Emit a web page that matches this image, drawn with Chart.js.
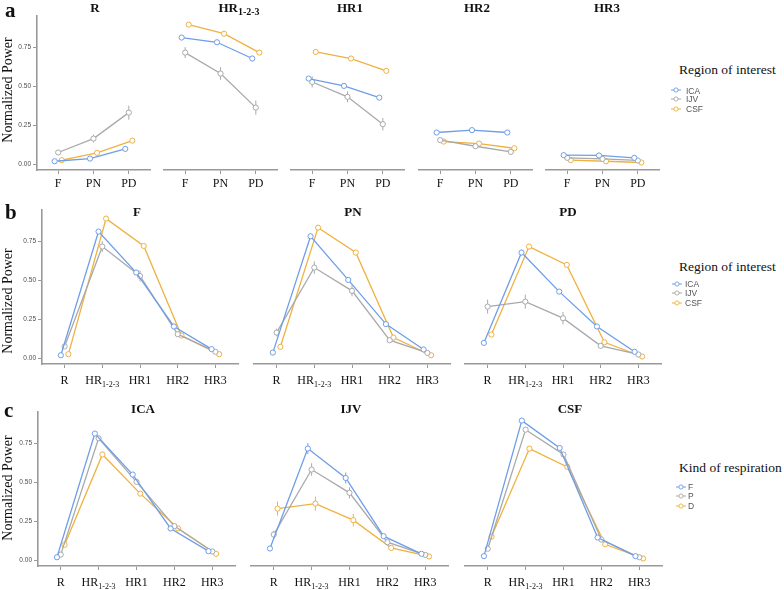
<!DOCTYPE html>
<html><head><meta charset="utf-8">
<script src="https://cdn.jsdelivr.net/npm/chart.js@4.4.1/dist/chart.umd.min.js"></script>
<style>
html,body{margin:0;padding:0;background:#fff;}
body{width:784px;height:590px;position:relative;overflow:hidden;}
.t{position:absolute;white-space:nowrap;}
.serif{font-family:"Liberation Serif","Times New Roman",serif;color:#111;}
.sans{font-family:"Liberation Sans",Arial,sans-serif;color:#555;}
canvas{position:absolute;}
sub{font-size:10px;vertical-align:-3px;line-height:0;}
</style></head><body>
<script>
// ---------------- data ----------------
const harmonics = ['R', 'HR_1-2-3', 'HR1', 'HR2', 'HR3'];
const respirations = ['F', 'PN', 'PD'];
const respLegend = ['F', 'P', 'D'];
const regions = ['ICA', 'IJV', 'CSF'];
const yTicks = [0, 0.25, 0.5, 0.75];

// values across harmonics R, HR1-2-3, HR1, HR2, HR3
const ICA_F  = [0.021, 0.812, 0.550, 0.205, 0.060];
const ICA_PN = [0.038, 0.782, 0.503, 0.220, 0.058];
const ICA_PD = [0.100, 0.678, 0.428, 0.205, 0.043];
const IJV_F  = [0.077, 0.716, 0.528, 0.156, 0.043];
const IJV_PN = [0.166, 0.582, 0.433, 0.117, 0.036];
const IJV_PD = [0.332, 0.364, 0.258, 0.081, 0.026];
const CSF_F  = [0.028, 0.895, 0.720, 0.147, 0.028];
const CSF_PN = [0.075, 0.837, 0.678, 0.134, 0.021];
const CSF_PD = [0.153, 0.716, 0.599, 0.104, 0.013];

// standard errors
const ICA_F_err  = [0.006, 0.012, 0.012, 0.008, 0.005];
const ICA_PN_err = [0.006, 0.012, 0.012, 0.008, 0.005];
const ICA_PD_err = [0.010, 0.018, 0.014, 0.008, 0.005];
const IJV_F_err  = [0.015, 0.035, 0.035, 0.012, 0.006];
const IJV_PN_err = [0.025, 0.040, 0.035, 0.010, 0.005];
const IJV_PD_err = [0.045, 0.045, 0.040, 0.010, 0.005];
const CSF_F_err  = [0.006, 0.010, 0.014, 0.008, 0.004];
const CSF_PN_err = [0.008, 0.010, 0.012, 0.008, 0.004];
const CSF_PD_err = [0.010, 0.012, 0.015, 0.008, 0.004];

const VAL = {ICA:{F:ICA_F,PN:ICA_PN,PD:ICA_PD}, IJV:{F:IJV_F,PN:IJV_PN,PD:IJV_PD}, CSF:{F:CSF_F,PN:CSF_PN,PD:CSF_PD}};
const ERR = {ICA:{F:ICA_F_err,PN:ICA_PN_err,PD:ICA_PD_err}, IJV:{F:IJV_F_err,PN:IJV_PN_err,PD:IJV_PD_err}, CSF:{F:CSF_F_err,PN:CSF_PN_err,PD:CSF_PD_err}};

// ---------------- style / layout ----------------
const COLORS = ['#6f9ee9', '#a9a9a9', '#efb140'];
const YMIN = -0.035, YMAX = 0.95, PPU = 156.4, PAD = 10, XH = 26, YW = 30;
const SERIF = '"Liberation Serif","Times New Roman",serif';

function htmlLabel(lab){ const p = lab.split('_'); return p.length > 1 ? p[0] + '<sub>' + p[1] + '</sub>' : lab; }

function addText(html, cls, css){
  const d = document.createElement('div');
  d.className = 't ' + cls; d.innerHTML = html;
  Object.assign(d.style, css);
  document.body.appendChild(d);
  return d;
}

function panel(o){
  const top = Math.round(o.zeroY - YMAX * PPU);
  const bottom = Math.round(o.zeroY - YMIN * PPU);
  const h = bottom - top;
  const yw = o.showY ? YW : 0;
  const L = Math.round(o.left), W = Math.round(o.width);
  const cw = W + yw + 2 * PAD, ch = h + XH + 2 * PAD;
  const cv = document.createElement('canvas');
  cv.width = cw; cv.height = ch;
  cv.style.left = (L - yw - PAD) + 'px'; cv.style.top = (top - PAD) + 'px';
  cv.style.width = cw + 'px'; cv.style.height = ch + 'px';
  document.body.appendChild(cv);
  const n = o.labels.length;
  const step = 0.1;
  const datasets = o.series.map((vals, s) => ({
    data: vals.map((v, i) => ({x: i + (s - 1) * step, y: v})),
    borderColor: COLORS[s], backgroundColor: '#fff', borderWidth: 1.3,
    pointRadius: 2.6, pointHoverRadius: 2.6, pointBorderWidth: 1,
    pointBackgroundColor: '#fff', pointBorderColor: COLORS[s], tension: 0, clip: false
  }));
  const errPlugin = { id: 'errbars', beforeDatasetsDraw(chart){
    const ctx = chart.ctx, ys = chart.scales.y;
    ctx.save(); ctx.lineWidth = 1;
    o.series.forEach((vals, s) => {
      const meta = chart.getDatasetMeta(s);
      ctx.strokeStyle = COLORS[s];
      meta.data.forEach((el, i) => {
        const e = o.errs[s][i];
        ctx.beginPath();
        ctx.moveTo(el.x, ys.getPixelForValue(vals[i] - e));
        ctx.lineTo(el.x, ys.getPixelForValue(vals[i] + e));
        ctx.stroke();
      });
    });
    ctx.restore();
  }};
  const xlabPlugin = { id: 'xlab', afterDraw(chart){
    const ctx = chart.ctx, xs = chart.scales.x, yb = chart.chartArea.bottom + o.labBase;
    ctx.save(); ctx.fillStyle = '#111'; ctx.textBaseline = 'alphabetic'; ctx.textAlign = 'left';
    o.labels.forEach((lab, i) => {
      const x = xs.getPixelForValue(i);
      const p = lab.split('_');
      ctx.font = '12px ' + SERIF;
      const w1 = ctx.measureText(p[0]).width;
      let w2 = 0;
      if (p[1]) { ctx.font = '8px ' + SERIF; w2 = ctx.measureText(p[1]).width; }
      const sx = x - (w1 + w2) / 2;
      ctx.font = '12px ' + SERIF; ctx.fillText(p[0], sx, yb);
      if (p[1]) { ctx.font = '8px ' + SERIF; ctx.fillText(p[1], sx + w1, yb + 3); }
    });
    ctx.restore();
  }};
  new Chart(cv, {
    type: 'line',
    data: { datasets },
    options: {
      responsive: false, animation: false, events: [],
      layout: { padding: PAD },
      plugins: { legend: { display: false }, tooltip: { enabled: false } },
      scales: {
        x: { type: 'linear', min: -0.6, max: n - 1 + 0.6,
          afterBuildTicks: s => { s.ticks = o.labels.map((_, i) => ({ value: i })); },
          afterFit: s => { s.height = XH; },
          ticks: { display: false },
          grid: { display: true, drawOnChartArea: false, drawTicks: true, tickLength: 4, color: '#999', lineWidth: 1 },
          border: { display: true, color: '#999', width: 1.6 } },
        y: { display: o.showY, min: YMIN, max: YMAX,
          afterBuildTicks: s => { s.ticks = yTicks.map(v => ({ value: v })); },
          afterFit: s => { s.width = yw; },
          ticks: { font: { family: 'Liberation Sans', size: 6.5 }, color: '#4d4d4d', padding: 2,
                   callback: v => Number(v).toFixed(2) },
          grid: { drawOnChartArea: false, drawTicks: true, tickLength: 4, color: '#999', lineWidth: 1 },
          border: { display: true, color: '#999', width: 1.6 } }
      }
    },
    plugins: [errPlugin, xlabPlugin]
  });
}

function title(html, cx, top){
  addText(html, 'serif', { left: (cx - 100) + 'px', width: '200px', textAlign: 'center', top: top + 'px',
    fontSize: '13px', lineHeight: '13px', fontWeight: 'bold' });
}

function yTitle(cy){
  addText('Normalized Power', 'serif', { left: '7.5px', top: cy + 'px', width: '200px', textAlign: 'center',
    fontSize: '14px', lineHeight: '14px', transform: 'translate(-50%,-50%) rotate(-90deg)' });
}

function legend(ttl, items, left, top, keyX, textX, centers){
  addText(ttl, 'serif', { left: left + 'px', top: top + 'px', fontSize: '13.5px', lineHeight: '14px' });
  items.forEach((it, k) => {
    const cy = centers[k];
    const svg = '<svg width="10" height="6" xmlns="http://www.w3.org/2000/svg"><line x1="0" y1="3" x2="10" y2="3" stroke="' + COLORS[k] +
      '" stroke-width="1"/><circle cx="5" cy="3" r="2.1" fill="#fff" stroke="' + COLORS[k] + '" stroke-width="0.9"/></svg>';
    addText(svg, '', { left: (keyX - 5) + 'px', top: (cy - 3) + 'px', lineHeight: '0' });
    addText(it, 'sans', { left: textX + 'px', top: (cy - 4.75) + 'px', fontSize: '8.5px', lineHeight: '10px' });
  });
}

function letter(ch, top, left){
  addText(ch, 'serif', { left: left + 'px', top: top + 'px', fontSize: '21px', lineHeight: '20px', fontWeight: 'bold' });
}

// ---------------- row a: facets by harmonic, x = respiration, series = region ----------------
const rowA = { zeroY: 164.3, width: 113, labBase: 17 };
const aTitleX = [95, 239, 350, 477, 607];
harmonics.forEach((hm, hi) => {
  panel({ left: 36.8 + 127.25 * hi, zeroY: rowA.zeroY, width: rowA.width, showY: hi === 0, labBase: rowA.labBase,
    labels: respirations,
    series: regions.map(r => respirations.map(rs => VAL[r][rs][hi])),
    errs: regions.map(r => respirations.map(rs => ERR[r][rs][hi])) });
  title(htmlLabel(hm), aTitleX[hi], 1);
});
yTitle(90);
letter('a', 0, 5);
legend('Region of interest', regions, 679, 62.7, 675.5, 686, [90.3, 99.2, 108.8]);

// ---------------- row b: facets by respiration, x = harmonic, series = region ----------------
const bLefts = [42, 254, 465], bTitleX = [137, 353, 568];
respirations.forEach((rs, ri) => {
  panel({ left: bLefts[ri], zeroY: 358.3, width: 196, showY: ri === 0, labBase: 20,
    labels: harmonics,
    series: regions.map(r => VAL[r][rs]),
    errs: regions.map(r => ERR[r][rs]) });
  title(rs, bTitleX[ri], 205);
});
yTitle(300.5);
letter('b', 202, 5);
legend('Region of interest', regions, 679, 259.7, 677, 685, [283.7, 293, 303]);

// ---------------- row c: facets by region, x = harmonic, series = respiration ----------------
const cLefts = [38, 251, 465], cTitleX = [143, 351, 570];
regions.forEach((r, gi) => {
  panel({ left: cLefts[gi], zeroY: 561, width: 197, showY: gi === 0, labBase: 20,
    labels: harmonics,
    series: respirations.map(rs => VAL[r][rs]),
    errs: respirations.map(rs => ERR[r][rs]) });
  title(r, cTitleX[gi], 402);
});
yTitle(488);
letter('c', 400, 4);
legend('Kind of respiration', respLegend, 679, 460.7, 680.5, 688, [486.7, 495.8, 505.5]);
</script>
</body></html>
